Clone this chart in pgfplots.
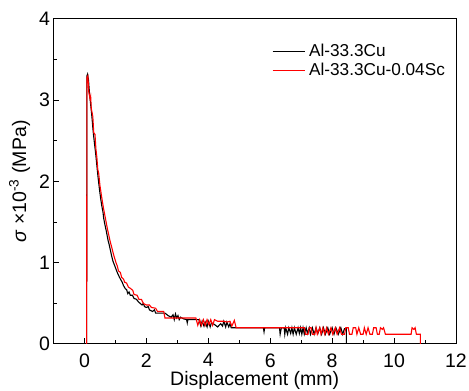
\documentclass[border=0pt]{standalone}
\usepackage{fontspec}
\setmainfont{Liberation Sans}
\usepackage{pgfplots}
\pgfplotsset{compat=1.18}
\begin{document}
\begin{tikzpicture}
\begin{axis}[
 name=ax,
 scale only axis, width=402.5pt, height=325pt,
 xmin=-1, xmax=12, ymin=0, ymax=4,
 xtick={0,2,...,12}, ytick={0,1,2,3,4},
 minor xtick={-1,1,3,5,7,9,11}, minor ytick={0.5,1.5,2.5,3.5},
 tick align=inside, xtick pos=bottom, ytick pos=left,
 major tick length=6pt, minor tick length=3.5pt,
 axis line style={line width=1pt},
 every tick/.style={black, line width=1pt},
 tick label style={font=\fontsize{19.5}{21}\selectfont},
 /pgf/number format/assume math mode=true,
 xticklabel style={yshift=-6pt},
 xlabel={Displacement (mm)},
 ylabel={\textit{σ} ×10\textsuperscript{-3} (MPa)},
 label style={font=\fontsize{19.5}{21}\selectfont},
 xlabel style={yshift=3pt},
 ylabel style={yshift=2pt},
 legend style={at={(0.535,0.935)}, anchor=north west, draw=none, fill=none,
   font=\fontsize{17.2}{18}\selectfont, row sep=1pt,
   nodes={inner xsep=4pt}},
 legend cell align=left,
 legend image code/.code={\draw[#1] (0pt,0pt) -- (32pt,0pt);},
]
\addplot[black, line width=1.1pt] coordinates {
(0.07,0) (0.08,3.30) (0.10,3.32) (0.13,3.25) (0.16,3.10) (0.20,2.95) (0.24,2.80)
(0.28,2.62) (0.32,2.48) (0.36,2.35) (0.40,2.20) (0.44,2.05) (0.48,1.92) (0.52,1.80)
(0.56,1.70) (0.60,1.62) (0.62,1.55) (0.66,1.47) (0.70,1.40) (0.72,1.36) (0.76,1.28)
(0.80,1.22) (0.84,1.15) (0.88,1.08) (0.92,1.02) (0.96,0.98) (1.00,0.94) (1.02,0.92)
(1.06,0.88) (1.12,0.83) (1.16,0.80) (1.22,0.76) (1.26,0.72) (1.32,0.68) (1.36,0.67)
(1.40,0.62) (1.44,0.64) (1.48,0.60) (1.55,0.60) (1.60,0.56) (1.68,0.55) (1.74,0.52)
(1.80,0.50) (1.86,0.48) (1.90,0.50) (1.94,0.46) (2.00,0.45) (2.06,0.46) (2.10,0.42)
(2.20,0.40) (2.26,0.42) (2.30,0.38) (2.40,0.38) (2.60,0.38) (2.70,0.35) (2.80,0.33)
(2.86,0.36) (2.90,0.30) (2.94,0.37) (2.98,0.32) (3.02,0.35) (3.06,0.30) (3.10,0.33)
(3.20,0.31) (3.30,0.30) (3.32,0.26) (3.34,0.30) (3.50,0.30) (3.70,0.30) (3.76,0.22)
(3.80,0.28) (3.86,0.22) (3.90,0.27) (3.96,0.21) (4.00,0.28) (4.06,0.21) (4.10,0.26)
(4.20,0.24) (4.30,0.21) (4.40,0.25) (4.46,0.22) (4.50,0.28) (4.56,0.21) (4.60,0.27)
(4.66,0.21) (4.70,0.25) (4.74,0.20) (4.80,0.20) (5.78,0.20) (5.80,0.15) (5.82,0.20)
(6.30,0.20) (6.32,0.12) (6.36,0.20) (6.45,0.20) (6.47,0.12) (6.50,0.20) (6.56,0.12)
(6.60,0.20) (6.66,0.13) (6.70,0.20) (6.74,0.12) (6.78,0.20) (6.84,0.12) (6.90,0.20)
(6.94,0.13) (6.98,0.20) (7.02,0.12) (7.06,0.20) (7.10,0.12) (7.16,0.20) (7.20,0.13)
(7.26,0.20) (7.30,0.12) (7.36,0.20) (7.42,0.12) (7.48,0.20) (7.54,0.13) (7.60,0.20)
(7.66,0.12) (7.72,0.20) (7.78,0.12) (7.86,0.20) (7.92,0.12) (8.00,0.20) (8.06,0.12)
(8.12,0.20) (8.20,0.12) (8.28,0.20) (8.34,0.12) (8.40,0.19) (8.46,0.19) (8.46,0)
};
\addlegendentry{Al-33.3Cu}
\addplot[red, line width=1.1pt] coordinates {
(0.07,0) (0.08,3.28) (0.11,3.30) (0.14,3.10) (0.18,3.02) (0.20,3.05) (0.22,2.90)
(0.27,2.80) (0.30,2.60) (0.34,2.58) (0.37,2.40) (0.40,2.30) (0.43,2.15) (0.46,2.10)
(0.50,1.95) (0.54,1.85) (0.58,1.75) (0.62,1.66) (0.66,1.58) (0.70,1.50) (0.74,1.42)
(0.78,1.35) (0.82,1.28) (0.86,1.22) (0.90,1.16) (0.94,1.10) (0.98,1.05) (1.02,1.00)
(1.06,0.96) (1.10,0.90) (1.16,0.88) (1.20,0.82) (1.26,0.80) (1.30,0.76) (1.36,0.75)
(1.42,0.70) (1.50,0.68) (1.56,0.66) (1.60,0.61) (1.70,0.60) (1.76,0.55) (1.84,0.55)
(1.90,0.50) (2.00,0.48) (2.10,0.48) (2.16,0.45) (2.30,0.44) (2.36,0.40) (2.56,0.40)
(2.60,0.32) (3.60,0.32) (3.66,0.23) (3.72,0.30) (3.78,0.23) (3.84,0.30) (3.90,0.23)
(3.96,0.30) (4.02,0.24) (4.08,0.30) (4.14,0.23) (4.20,0.30) (4.30,0.28) (4.40,0.28)
(4.50,0.28) (4.60,0.27) (4.70,0.28) (4.76,0.22) (4.84,0.29) (4.90,0.20) (7.10,0.20)
(7.14,0.12) (7.22,0.12) (7.26,0.20) (7.32,0.20) (7.36,0.12) (7.44,0.12) (7.48,0.20)
(7.52,0.12) (7.60,0.20) (7.64,0.12) (7.70,0.20) (7.76,0.12) (7.82,0.20) (7.88,0.12)
(7.96,0.20) (8.02,0.12) (8.10,0.20) (8.16,0.12) (8.24,0.20) (8.30,0.12) (8.40,0.12)
(8.44,0.20) (8.52,0.20) (8.56,0.12) (8.64,0.12) (8.68,0.20) (8.76,0.20) (8.80,0.12)
(8.86,0.20) (8.92,0.12) (9.00,0.12) (9.04,0.20) (9.10,0.12) (9.16,0.20) (9.22,0.12)
(9.30,0.12) (9.34,0.20) (9.42,0.20) (9.46,0.12) (9.52,0.12) (9.56,0.20) (9.62,0.18)
(9.66,0.20) (9.72,0.12) (10.55,0.12) (10.58,0.20) (10.64,0.18) (10.68,0.20)
(10.72,0.12) (10.85,0.12) (10.85,0)
};
\addlegendentry{Al-33.3Cu-0.04Sc}
\end{axis}
\pgfresetboundingbox
\path ([shift={(-53.5pt,-47pt)}]ax.south west) rectangle ([shift={(13pt,19pt)}]ax.north east);
\end{tikzpicture}
\end{document}
